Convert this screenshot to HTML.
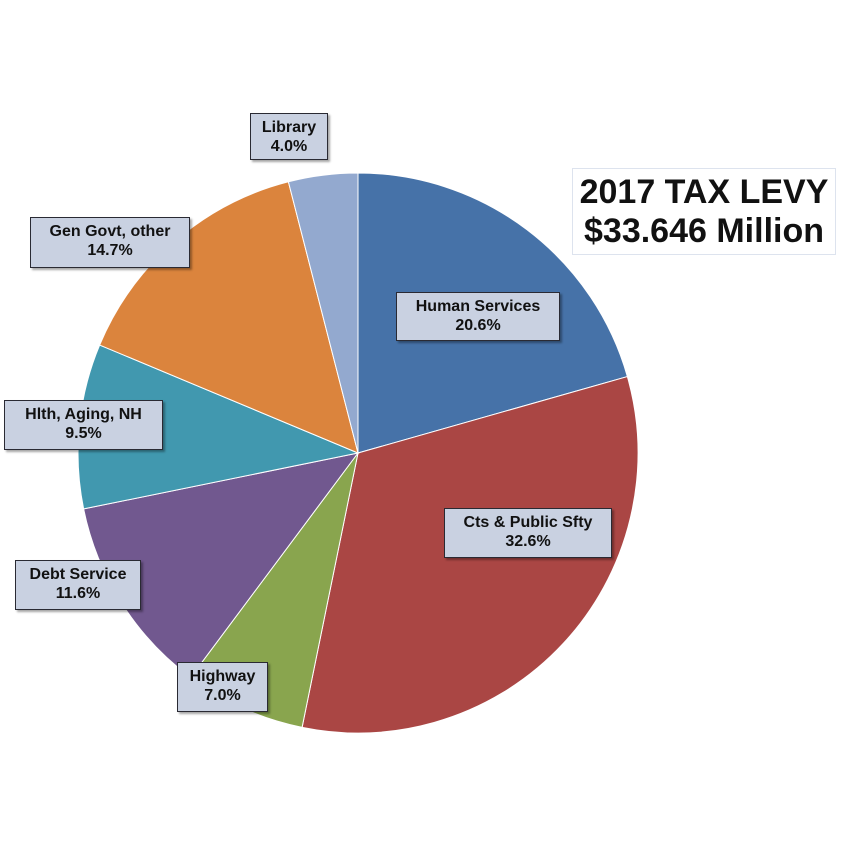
<!DOCTYPE html>
<html><head><meta charset="utf-8"><style>
body{margin:0;background:#fff;width:842px;height:842px;overflow:hidden;font-family:"Liberation Sans",sans-serif;}
.lbl{position:absolute;background:#c9d1e1;border:1.5px solid #2a2a33;box-shadow:2px 2px 2px rgba(0,0,0,0.35);font-weight:bold;font-size:16px;line-height:19px;text-align:center;color:#111;box-sizing:border-box;padding-top:4px;}
#title{position:absolute;left:572px;top:168px;width:264px;height:87px;border:1px solid #dde3ee;font-weight:bold;font-size:34px;line-height:39px;text-align:center;color:#111;padding-top:4px;box-sizing:border-box;}
</style></head><body>
<svg id="chart" width="842" height="842" style="position:absolute;left:0;top:0"></svg>
<div id="title">2017 TAX LEVY<br>$33.646 Million</div>
<div class="lbl" style="left:250px;top:113px;width:78px;height:47px">Library<br>4.0%</div>
<div class="lbl" style="left:30px;top:217px;width:160px;height:51px">Gen Govt, other<br>14.7%</div>
<div class="lbl" style="left:396px;top:292px;width:164px;height:49px">Human Services<br>20.6%</div>
<div class="lbl" style="left:4px;top:400px;width:159px;height:50px">Hlth, Aging, NH<br>9.5%</div>
<div class="lbl" style="left:444px;top:508px;width:168px;height:50px">Cts &amp; Public Sfty<br>32.6%</div>
<div class="lbl" style="left:15px;top:560px;width:126px;height:50px">Debt Service<br>11.6%</div>
<div class="lbl" style="left:177px;top:662px;width:91px;height:50px">Highway<br>7.0%</div>
<script>
const categories=["Human Services","Cts & Public Sfty","Highway","Debt Service","Hlth, Aging, NH","Gen Govt, other","Library"];
const values=[20.6,32.6,7.0,11.6,9.5,14.7,4.0];
const colors=["#4672a8","#aa4644","#89a54e","#71588f","#4198af","#db843d","#93a9cf"];
const svg=document.getElementById('chart');
const cx=358,cy=453,r=280;
const total=values.reduce((a,b)=>a+b,0);
let a0=0;
values.forEach((v,i)=>{
  const a1=a0+v/total*2*Math.PI;
  const x0=cx+r*Math.sin(a0),y0=cy-r*Math.cos(a0);
  const x1=cx+r*Math.sin(a1),y1=cy-r*Math.cos(a1);
  const large=(a1-a0)>Math.PI?1:0;
  const p=document.createElementNS('http://www.w3.org/2000/svg','path');
  p.setAttribute('d',`M${cx},${cy}L${x0},${y0}A${r},${r} 0 ${large} 1 ${x1},${y1}Z`);
  p.setAttribute('fill',colors[i]);
  p.setAttribute('stroke','#fff');
  p.setAttribute('stroke-width','1');
  
  
  svg.appendChild(p);
  a0=a1;
});
</script>
</body></html>
